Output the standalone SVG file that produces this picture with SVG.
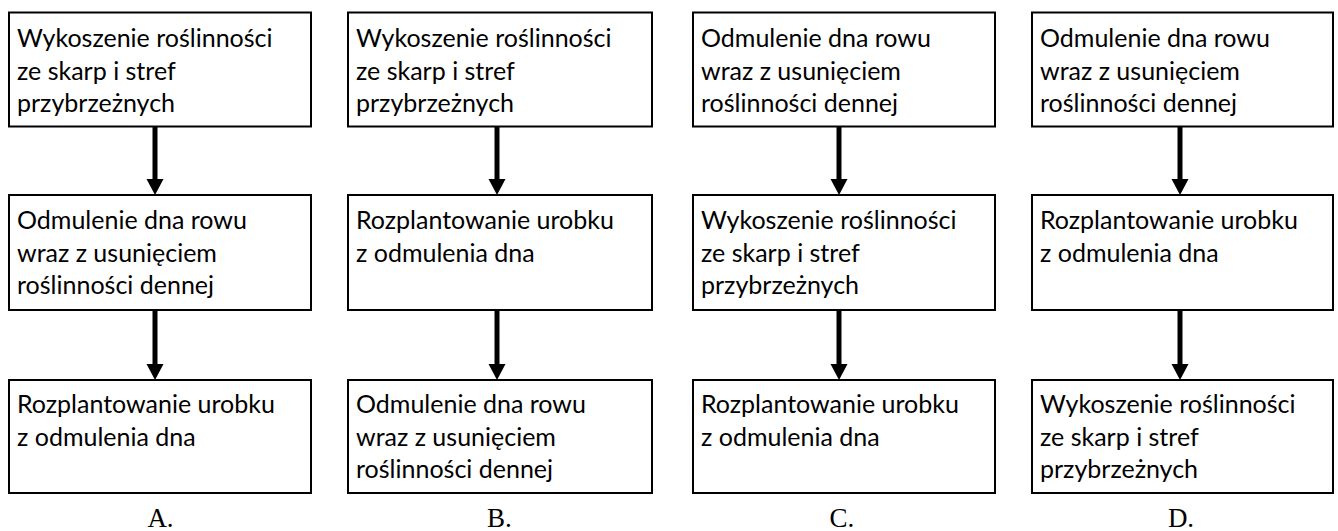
<svg xmlns="http://www.w3.org/2000/svg" width="1338" height="531" viewBox="0 0 1338 531">
<style>
.box{fill:#fff;stroke:#000;stroke-width:2}
.t{font-family:Lato,"Open Sans",sans-serif;font-size:25px;fill:#000}
.lbl{font-family:"Liberation Serif",serif;font-size:27px;fill:#000;text-anchor:middle}
.ar{stroke:#000;stroke-width:5;fill:none;marker-end:url(#ah)}
</style>
<defs>
<marker id="ah" markerUnits="userSpaceOnUse" markerWidth="18" markerHeight="18" refX="1" refY="8.5" orient="auto">
<path d="M0,0 L16,8.5 L0,17 Z" fill="#000"/>
</marker>
</defs>
<rect width="1338" height="531" fill="#fff"/>
<g id="connectors">
<line class="ar" x1="155" y1="127" x2="155" y2="180"/>
<line class="ar" x1="155" y1="310" x2="155" y2="365"/>
<line class="ar" x1="497" y1="127" x2="497" y2="180"/>
<line class="ar" x1="497" y1="310" x2="497" y2="365"/>
<line class="ar" x1="839" y1="127" x2="839" y2="180"/>
<line class="ar" x1="839" y1="310" x2="839" y2="365"/>
<line class="ar" x1="1180" y1="127" x2="1180" y2="180"/>
<line class="ar" x1="1180" y1="310" x2="1180" y2="365"/>
</g>
<g id="A1"><rect class="box" x="9" y="12.5" width="302" height="114"/>
<text class="t" x="17" y="47">Wykoszenie roślinności</text><text class="t" x="17" y="79.5">ze skarp i stref</text><text class="t" x="17" y="112">przybrzeżnych</text></g>
<g id="A2"><rect class="box" x="9" y="195" width="302" height="115"/>
<text class="t" x="17" y="229">Odmulenie dna rowu</text><text class="t" x="17" y="261.5">wraz z usunięciem</text><text class="t" x="17" y="294">roślinności dennej</text></g>
<g id="A3"><rect class="box" x="9" y="380" width="302" height="113"/>
<text class="t" x="17" y="413">Rozplantowanie urobku</text><text class="t" x="17" y="445.5">z odmulenia dna</text></g>
<g id="B1"><rect class="box" x="348" y="12.5" width="304" height="114"/>
<text class="t" x="356" y="47">Wykoszenie roślinności</text><text class="t" x="356" y="79.5">ze skarp i stref</text><text class="t" x="356" y="112">przybrzeżnych</text></g>
<g id="B2"><rect class="box" x="348" y="195" width="304" height="115"/>
<text class="t" x="356" y="229">Rozplantowanie urobku</text><text class="t" x="356" y="261.5">z odmulenia dna</text></g>
<g id="B3"><rect class="box" x="348" y="380" width="304" height="113"/>
<text class="t" x="356" y="413">Odmulenie dna rowu</text><text class="t" x="356" y="445.5">wraz z usunięciem</text><text class="t" x="356" y="478">roślinności dennej</text></g>
<g id="C1"><rect class="box" x="693" y="12.5" width="302" height="114"/>
<text class="t" x="701" y="47">Odmulenie dna rowu</text><text class="t" x="701" y="79.5">wraz z usunięciem</text><text class="t" x="701" y="112">roślinności dennej</text></g>
<g id="C2"><rect class="box" x="693" y="195" width="302" height="115"/>
<text class="t" x="701" y="229">Wykoszenie roślinności</text><text class="t" x="701" y="261.5">ze skarp i stref</text><text class="t" x="701" y="294">przybrzeżnych</text></g>
<g id="C3"><rect class="box" x="693" y="380" width="302" height="113"/>
<text class="t" x="701" y="413">Rozplantowanie urobku</text><text class="t" x="701" y="445.5">z odmulenia dna</text></g>
<g id="D1"><rect class="box" x="1032" y="12.5" width="301" height="114"/>
<text class="t" x="1040" y="47">Odmulenie dna rowu</text><text class="t" x="1040" y="79.5">wraz z usunięciem</text><text class="t" x="1040" y="112">roślinności dennej</text></g>
<g id="D2"><rect class="box" x="1032" y="195" width="301" height="115"/>
<text class="t" x="1040" y="229">Rozplantowanie urobku</text><text class="t" x="1040" y="261.5">z odmulenia dna</text></g>
<g id="D3"><rect class="box" x="1032" y="380" width="301" height="113"/>
<text class="t" x="1040" y="413">Wykoszenie roślinności</text><text class="t" x="1040" y="445.5">ze skarp i stref</text><text class="t" x="1040" y="478">przybrzeżnych</text></g>
<g id="labels">
<text class="lbl" x="160.5" y="527">A.</text>
<text class="lbl" x="499.5" y="527">B.</text>
<text class="lbl" x="842" y="527">C.</text>
<text class="lbl" x="1181" y="527">D.</text>
</g>
</svg>
